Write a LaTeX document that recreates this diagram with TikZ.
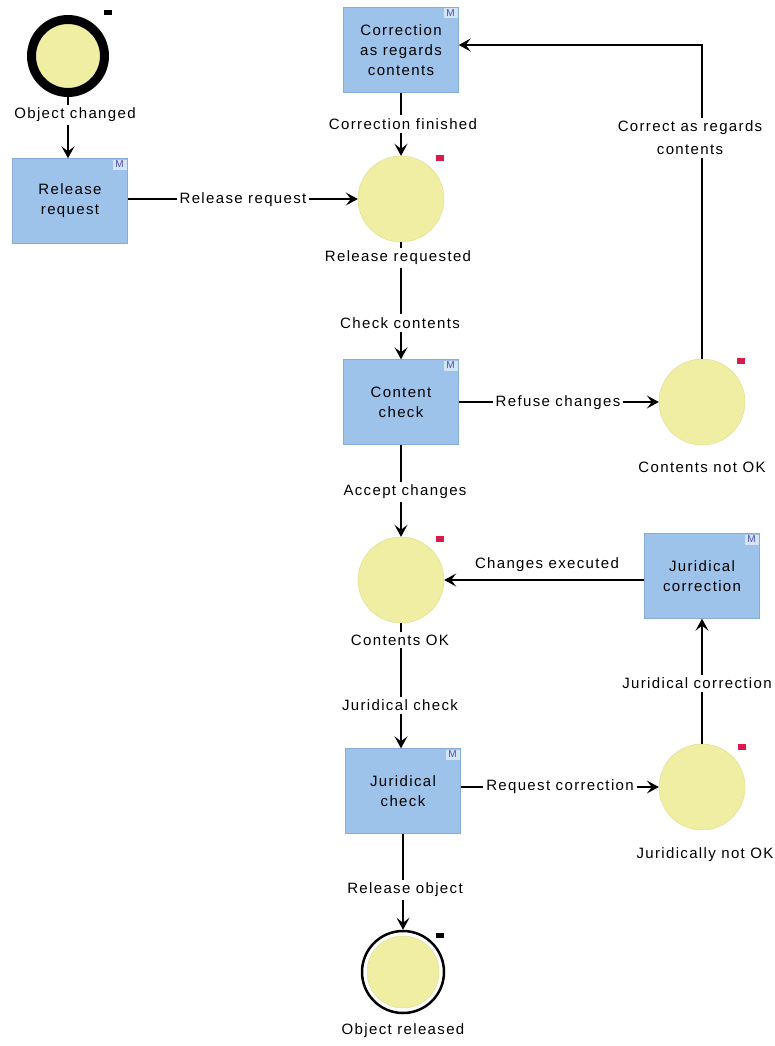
\documentclass[tikz,border=0pt]{standalone}
\usepackage{fontspec}
\setmainfont[LetterSpace=9]{Liberation Sans}
\usepackage{xcolor}
\usetikzlibrary{arrows.meta}
\definecolor{funcblue}{HTML}{9DC3EB}
\definecolor{funcedge}{HTML}{86ACD8}
\definecolor{eventyellow}{HTML}{F0EEA2}
\definecolor{eventedge}{HTML}{DEDB8C}
\definecolor{tagred}{HTML}{D81B4A}

\begin{document}
\begin{tikzpicture}[
  x=1pt, y=-1pt,
  every node/.style={font=\fontsize{15}{20}\selectfont},
  func/.style={draw=funcedge, fill=funcblue, minimum width=115pt, minimum height=85pt,
    align=center, inner sep=0pt},
  event/.style={circle, draw=eventedge, fill=eventyellow, minimum size=86pt, inner sep=0pt},
  mtag/.style={fill=funcblue!45!white, minimum width=14pt, minimum height=10pt, inner sep=0pt,
    anchor=north east, text=gray!60!blue, font=\fontsize{10}{10}\selectfont},
  redtag/.style={fill=tagred, minimum width=8pt, minimum height=6pt, inner sep=0pt},
  blacktag/.style={fill=black, minimum width=8pt, minimum height=5pt, inner sep=0pt},
  lbl/.style={fill=white, inner sep=3pt, align=center},
  flow/.style={-{Stealth[length=12pt,width=13pt,inset=5pt]}, line width=1.1pt}
]
\useasboundingbox (0,0) rectangle (775,1046);

% Start and end events
\node[event, draw=black, line width=9pt, minimum size=73pt] (start) at (68,56) {};
\node[blacktag] (tstart) at ([shift={(40pt,43pt)}]start.center) {};
\node[circle, draw=black, line width=2.5pt, fill=white, minimum size=82pt] (endev) at (403,972) {};
\node[event, minimum size=72pt] (endin) at (endev) {};
\node[blacktag] (tend) at ([shift={(37pt,37pt)}]endev.center) {};

% Functions
\node[func] (rel)  at (70,201)  {Release\\request};
\node[func] (corr) at (401,50)  {Correction\\as regards\\contents};
\node[func] (cont) at (401,402) {Content\\check};
\node[func] (jcor) at (702,576) {Juridical\\correction};
\node[func] (jchk) at (403,791) {Juridical\\check};
\node[mtag] (mrel)  at ([shift={(-1pt,-1pt)}]rel.north east)  {M};
\node[mtag] (mcorr) at ([shift={(-1pt,-1pt)}]corr.north east) {M};
\node[mtag] (mcont) at ([shift={(-1pt,-1pt)}]cont.north east) {M};
\node[mtag] (mjcor) at ([shift={(-1pt,-1pt)}]jcor.north east) {M};
\node[mtag] (mjchk) at ([shift={(-1pt,-1pt)}]jchk.north east) {M};

% Events
\node[event] (reqd) at (401,199) {};
\node[event] (cnok) at (702,402) {};
\node[event] (cok)  at (401,580) {};
\node[event] (jnok) at (702,787) {};
\node[redtag] (treqd) at ([shift={(39pt,41pt)}]reqd.center) {};
\node[redtag] (tcnok) at ([shift={(39pt,41pt)}]cnok.center) {};
\node[redtag] (tcok)  at ([shift={(39pt,41pt)}]cok.center)  {};
\node[redtag] (tjnok) at ([shift={(40pt,40pt)}]jnok.center) {};

% Arrows
\draw[flow] (start) -- (start |- rel.north);
\draw[flow] (rel.east |- reqd) -- (reqd);
\draw[flow] (corr) -- (reqd);
\draw[flow] (reqd) -- (cont);
\draw[flow] (cont) -- (cnok);
\draw[flow] (cnok.north) |- ([yshift=5pt]corr.east);
\draw[flow] (cont) -- (cok);
\draw[flow] (jcor.west |- cok) -- (cok);
\draw[flow] (jnok) -- (jcor);
\draw[flow] (cok) -- (cok |- jchk.north);
\draw[flow] (jchk.east |- jnok) -- (jnok);
\draw[flow] (jchk) -- (endev);

% Event names
\node[lbl] (lstart) at (75,115)  {Object changed};
\node[lbl] (lreqd)  at (398,258) {Release requested};
\node[lbl] (lcnok)  at (702,467) {Contents not OK};
\node[lbl] (lcok)   at (400,640) {Contents OK};
\node[lbl] (ljnok)  at (705,855) {Juridically not OK};
\node[lbl] (lend)   at (403,1031) {Object released};

% Connector labels
\node[lbl] (c1)  at (243,200) {Release request};
\node[lbl] (c2)  at (403,124) {Correction finished};
\node[lbl] (c3)  at (400,323) {Check contents};
\node[lbl] (c4)  at (558,403) {Refuse changes};
\node[lbl, font=\fontsize{15}{23}\selectfont] (c5) at (690,138) {Correct as regards\\contents};
\node[lbl] (c6)  at (405,492) {Accept changes};
\node[lbl] (c7)  at (547,565) {Changes executed};
\node[lbl] (c8)  at (697,683) {Juridical correction};
\node[lbl] (c9)  at (400,705) {Juridical check};
\node[lbl] (c10) at (560,787) {Request correction};
\node[lbl] (c11) at (405,890) {Release object};

\end{tikzpicture}
\end{document}
